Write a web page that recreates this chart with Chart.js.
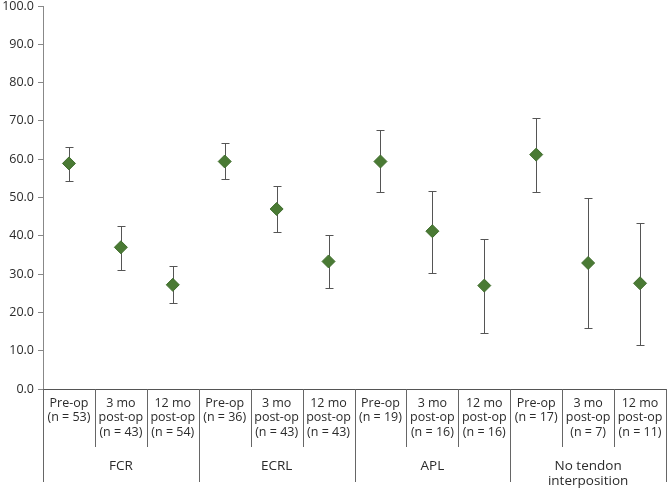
<!DOCTYPE html>
<html>
<head>
<meta charset="utf-8">
<script src="https://cdn.jsdelivr.net/npm/chart.js@4"></script>
<style>
  html, body { margin: 0; padding: 0; background: #fff; }
  #wrap { width: 668px; height: 489px; position: relative; }
</style>
</head>
<body>
<div id="wrap"><canvas id="c" width="668" height="489"></canvas></div>
<script>
// ---- data ----
const categories = [
  ["Pre-op", "(n = 53)"], ["3 mo", "post-op", "(n = 43)"], ["12 mo", "post-op", "(n = 54)"],
  ["Pre-op", "(n = 36)"], ["3 mo", "post-op", "(n = 43)"], ["12 mo", "post-op", "(n = 43)"],
  ["Pre-op", "(n = 19)"], ["3 mo", "post-op", "(n = 16)"], ["12 mo", "post-op", "(n = 16)"],
  ["Pre-op", "(n = 17)"], ["3 mo", "post-op", "(n = 7)"], ["12 mo", "post-op", "(n = 11)"]
];
const groups = [["FCR"], ["ECRL"], ["APL"], ["No tendon", "interposition"]];
const groupSize = 3;
const means = [58.9, 37.0, 27.2, 59.4, 47.0, 33.3, 59.4, 41.2, 27.0, 61.2, 32.9, 27.6];
const upper = [63.3, 42.6, 32.1, 64.2, 53.0, 40.1, 67.5, 51.8, 39.1, 70.8, 49.8, 43.4];
const lower = [54.4, 31.0, 22.4, 54.8, 40.9, 26.3, 51.4, 30.4, 14.7, 51.5, 15.8, 11.5];
const yTicks = { min: 0, max: 100, step: 10 };

const FONT = '"Open Sans", "Noto Sans", sans-serif';
const TEXT = '#2b2b2b';

const errorBars = {
  id: 'errorBars',
  beforeDatasetsDraw(chart) {
    const { ctx, scales: { x, y } } = chart;
    ctx.save();
    ctx.strokeStyle = '#555555';
    ctx.lineWidth = 1;
    means.forEach((m, i) => {
      const px = Math.round(x.getPixelForValue(i)) + 0.5;
      const yt = Math.round(y.getPixelForValue(upper[i])) + 0.5;
      const yb = Math.round(y.getPixelForValue(lower[i])) + 0.5;
      ctx.beginPath();
      ctx.moveTo(px, yt); ctx.lineTo(px, yb);
      ctx.moveTo(px - 4, yt); ctx.lineTo(px + 4, yt);
      ctx.moveTo(px - 4, yb); ctx.lineTo(px + 4, yb);
      ctx.stroke();
    });
    ctx.restore();
  }
};

const groupAxis = {
  id: 'groupAxis',
  afterDraw(chart) {
    const { ctx, scales: { x } } = chart;
    const n = categories.length;
    const half = (x.getPixelForValue(1) - x.getPixelForValue(0)) / 2;
    const base = x.top;
    ctx.save();
    ctx.strokeStyle = '#666666';
    ctx.lineWidth = 1;
    for (let i = 0; i <= n; i++) {
      const bx = i < n ? x.getPixelForValue(i) - half : x.getPixelForValue(n - 1) + half;
      const px = Math.round(bx) + 0.5;
      const major = i % groupSize === 0;
      ctx.beginPath();
      ctx.moveTo(px, base);
      ctx.lineTo(px, base + (major ? 93 : 58));
      ctx.stroke();
    }
    ctx.fillStyle = TEXT;
    ctx.font = '13.5px ' + FONT;
    ctx.textAlign = 'center';
    ctx.textBaseline = 'middle';
    groups.forEach((g, gi) => {
      const cx = (x.getPixelForValue(gi * groupSize) + x.getPixelForValue(gi * groupSize + groupSize - 1)) / 2;
      g.forEach((line, li) => ctx.fillText(line, cx, base + 77 + li * 15));
    });
    ctx.restore();
  }
};

new Chart(document.getElementById('c'), {
  type: 'line',
  data: {
    labels: categories,
    datasets: [{
      data: means,
      showLine: false,
      clip: false,
      pointStyle: 'rectRot',
      pointRadius: 6.5,
      pointHoverRadius: 6.5,
      pointBackgroundColor: '#4a7a34',
      pointBorderColor: '#3f6d2c',
      pointBorderWidth: 1
    }]
  },
  options: {
    responsive: false,
    animation: false,
    events: [],
    layout: { autoPadding: false, padding: { top: 6, right: 2, left: 0, bottom: 0 } },
    plugins: { legend: { display: false }, tooltip: { enabled: false } },
    scales: {
      x: {
        type: 'category',
        offset: true,
        grid: { display: false, drawTicks: false },
        border: { display: true, color: '#555555', width: 1 },
        ticks: {
          autoSkip: false, maxRotation: 0, minRotation: 0,
          padding: 7,
          color: TEXT,
          font: { family: FONT, size: 12.5, lineHeight: '14.5px' }
        },
        afterFit(s) { s.height = 100; s.paddingLeft = 0; s.paddingRight = 0; }
      },
      y: {
        min: yTicks.min, max: yTicks.max,
        grid: { drawOnChartArea: false, tickLength: 5, color: '#888888' },
        border: { display: true, color: '#888888', width: 1 },
        ticks: {
          stepSize: yTicks.step,
          padding: 4,
          color: TEXT,
          font: { family: FONT, size: 12.5 },
          callback: v => Number(v).toFixed(1)
        },
        afterFit(s) { s.width = 43; s.paddingTop = 0; s.paddingBottom = 0; }
      }
    }
  },
  plugins: [errorBars, groupAxis]
});
</script>
</body>
</html>
